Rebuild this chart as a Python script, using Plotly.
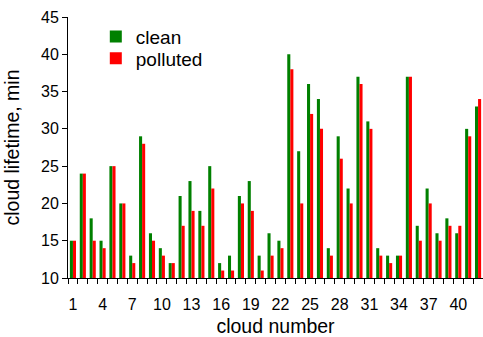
import plotly.graph_objects as go

clouds = list(range(1, 43))
clean = [15, 24, 18, 15, 25, 20, 13, 29, 16, 14, 12, 21, 23, 19, 25, 12, 13, 21, 23, 13, 16,
         15, 40, 27, 36, 34, 14, 29, 22, 37, 31, 14, 13, 13, 37, 17, 22, 16, 18, 16, 30, 33]
polluted = [15, 24, 15, 14, 25, 20, 12, 28, 15, 13, 12, 17, 19, 17, 22, 11, 11, 20, 19, 11, 13,
            14, 38, 20, 32, 30, 13, 26, 20, 36, 30, 13, 12, 13, 37, 15, 20, 15, 17, 17, 29, 34]
xtick_vals = list(range(1, 42, 3))
ytick_vals = [10, 15, 20, 25, 30, 35, 40, 45]

fig = go.Figure()
fig.add_trace(go.Bar(x=clouds, y=clean, name="clean", marker_color="#008000",
                     marker_line_width=0, legend="legend"))
fig.add_trace(go.Bar(x=clouds, y=polluted, name="polluted", marker_color="#ff0000",
                     marker_line_width=0, legend="legend2"))

font = dict(family="Liberation Sans, Arial, sans-serif", size=16, color="black")
title_font = dict(family="Liberation Sans, Arial, sans-serif", size=19.5, color="black")
leg_common = dict(xanchor="left", yanchor="middle", bgcolor="rgba(0,0,0,0)",
                  font=dict(size=19), itemwidth=30)
fig.update_layout(
    width=483, height=337,
    margin=dict(l=68, r=0, t=17, b=59, autoexpand=False),
    paper_bgcolor="white", plot_bgcolor="white",
    barmode="group", bargap=0.38, bargroupgap=0,
    font=font,
    showlegend=True,
    legend=dict(x=0.067, y=0.925, **leg_common),
    legend2=dict(x=0.067, y=0.841, **leg_common),
    xaxis=dict(range=[0.5, 42.5], tickvals=xtick_vals, ticks="outside", ticklen=12,
               tickcolor="rgba(0,0,0,0)", showgrid=False,
               showline=True, linecolor="black", linewidth=1, zeroline=False,
               minor=dict(tick0=0.5, dtick=1, ticks="outside", ticklen=5, tickcolor="black", showgrid=False),
               title=dict(text="cloud number", standoff=8, font=title_font),
               tickfont=dict(size=16)),
    yaxis=dict(range=[10, 45], tickvals=ytick_vals, ticks="outside", ticklen=5,
               tickcolor="black", showgrid=False, showline=True, linecolor="black",
               linewidth=1, zeroline=False,
               title=dict(text="cloud lifetime, min", standoff=16, font=title_font),
               tickfont=dict(size=16)),
)
fig.write_html("out.html", config={"displayModeBar": False},
               post_script="document.body.style.margin='0';document.body.style.overflow='hidden';")
